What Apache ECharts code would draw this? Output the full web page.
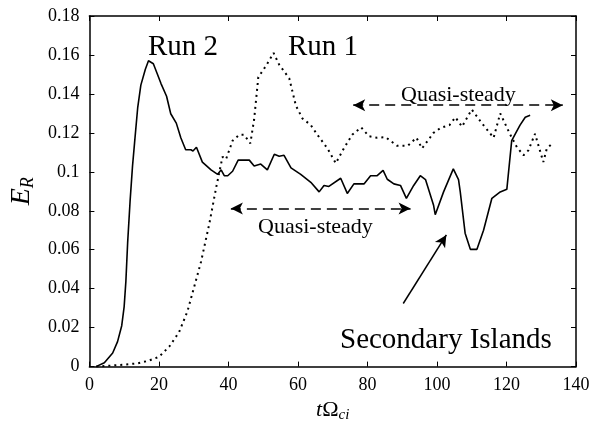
<!DOCTYPE html>
<html>
<head>
    <meta charset="utf-8">
    <title>E_R</title>
    <script src="https://cdn.jsdelivr.net/npm/echarts@6/dist/echarts.min.js"></script>
    <style>
        body { margin: 0; background: #fff; }
        #chart { width: 606px; height: 428px; }
    </style>
</head>
<body>
<div id="chart"></div>
<script type="text/javascript">
// Run 1 (dotted)
var run1T = [2, 6, 10, 14, 17, 20, 23, 25.8, 28.2, 30, 32.1, 34.5, 36.4, 38.3, 39.3, 41.2, 43.1, 44.5, 46.3, 47.4, 48.6, 50.8, 53, 54.6, 57.5, 59.4, 61.3, 63.7, 65.6, 68.5, 70.9, 73.2, 75.6, 78.2, 80.4, 82.8, 85.2, 88.5, 91.6, 94.1, 95.7, 99, 101, 103.6, 105.3, 107.2, 110, 112.9, 116.3, 118.2, 121.1, 123, 124.9, 126.3, 128.2, 130.6, 131.6, 133.5];
var run1E = [0, 0.0005, 0.001, 0.0017, 0.003, 0.005, 0.0103, 0.0177, 0.0283, 0.04, 0.0537, 0.0733, 0.0913, 0.1077, 0.1064, 0.116, 0.119, 0.119, 0.1146, 0.127, 0.1486, 0.1544, 0.161, 0.155, 0.148, 0.134, 0.1274, 0.124, 0.119, 0.112, 0.1044, 0.112, 0.119, 0.1228, 0.1183, 0.1175, 0.1178, 0.1134, 0.1134, 0.1175, 0.112, 0.12, 0.1225, 0.124, 0.128, 0.1232, 0.132, 0.125, 0.1175, 0.13, 0.119, 0.1126, 0.1085, 0.111, 0.1195, 0.105, 0.112, 0.115];

// Run 2 (solid)
var run2T = [1.9, 4.3, 6.7, 8.1, 9.3, 10, 10.5, 11, 11.7, 12.4, 13, 13.9, 14.8, 16.1, 17, 18.4, 19.6, 20.6, 22.2, 23.4, 25, 26.3, 27.7, 29.2, 29.8, 30.8, 32.5, 35, 36.9, 37.9, 38.8, 39.8, 41.2, 42.8, 46, 47.4, 49.3, 51.2, 53.2, 54.6, 56, 58, 60.8, 63.7, 66.1, 67.5, 68.9, 72.3, 74.2, 76.1, 79, 80.9, 82.8, 84.5, 85.7, 87.6, 89.5, 91.2, 93.3, 95.2, 96.7, 99, 99.5, 101.9, 104.7, 106.2, 106.7, 108.1, 109.6, 111.5, 113.4, 115.8, 118.2, 120.1, 121.5, 123, 123.9, 125.4, 126.8];
var run2E = [0, 0.002, 0.007, 0.0128, 0.021, 0.0308, 0.0439, 0.0635, 0.0848, 0.1028, 0.115, 0.133, 0.1445, 0.1527, 0.157, 0.1555, 0.15, 0.1453, 0.1388, 0.1298, 0.125, 0.1175, 0.1113, 0.1113, 0.1107, 0.1126, 0.105, 0.101, 0.0987, 0.101, 0.098, 0.098, 0.1003, 0.106, 0.106, 0.103, 0.104, 0.101, 0.109, 0.108, 0.1085, 0.102, 0.0987, 0.0946, 0.0897, 0.093, 0.0925, 0.0967, 0.0889, 0.0938, 0.0938, 0.098, 0.098, 0.1007, 0.0962, 0.0938, 0.093, 0.0864, 0.093, 0.098, 0.096, 0.083, 0.078, 0.0897, 0.1015, 0.096, 0.0897, 0.0685, 0.0602, 0.0602, 0.07, 0.0864, 0.0897, 0.091, 0.116, 0.121, 0.124, 0.128, 0.129];

var xTicks = [0, 20, 40, 60, 80, 100, 120, 140];
var yTicks = [0, 0.02, 0.04, 0.06, 0.08, 0.1, 0.12, 0.14, 0.16, 0.18];

function zip(a, b) {
    var out = [];
    for (var i = 0; i < a.length; i++) out.push([a[i], b[i]]);
    return out;
}

var serif = '"Liberation Serif", "DejaVu Serif", serif';
var chart = echarts.init(document.getElementById('chart'));

function axisCommon() {
    return {
        axisLine: { show: true, onZero: false, lineStyle: { color: '#000', width: 1.5 } },
        axisTick: { show: true, inside: true, length: 5, lineStyle: { color: '#000', width: 1 } },
        splitLine: { show: false }
    };
}

var option = {
    animation: false,
    backgroundColor: '#fff',
    grid: { left: 88, right: 30, top: 16, bottom: 45, show: false },
    xAxis: [
        Object.assign({
            type: 'value', min: 0, max: 140, interval: 20, position: 'bottom',
            axisLabel: { color: '#000', fontFamily: serif, fontSize: 18, margin: 10,
                formatter: function (v) { return xTicks.indexOf(v) >= 0 ? String(v) : ''; } },
            name: '{i|t}{n|Ω}{s|ci}',
            nameLocation: 'middle', nameGap: 24,
            nameTextStyle: {
                rich: {
                    i: { fontFamily: serif, fontStyle: 'italic', fontSize: 22, color: '#000' },
                    n: { fontFamily: serif, fontSize: 22, color: '#000' },
                    s: { fontFamily: serif, fontStyle: 'italic', fontSize: 15, color: '#000', padding: [10, 0, 0, 0] }
                }
            }
        }, axisCommon()),
        Object.assign({
            type: 'value', min: 0, max: 140, interval: 20, position: 'top',
            axisLabel: { show: false }
        }, axisCommon())
    ],
    yAxis: [
        Object.assign({
            type: 'value', min: 0, max: 0.18, interval: 0.02, position: 'left',
            axisLabel: { color: '#000', fontFamily: serif, fontSize: 18, margin: 10,
                formatter: function (v) {
                    var r = Math.round(v * 100) / 100;
                    return yTicks.indexOf(r) >= 0 ? String(r) : '';
                } },
            name: '{i|E}{s|R}',
            nameLocation: 'middle', nameGap: 52, nameRotate: 90,
            nameTextStyle: {
                rich: {
                    i: { fontFamily: serif, fontStyle: 'italic', fontSize: 28, color: '#000' },
                    s: { fontFamily: serif, fontStyle: 'italic', fontSize: 18, color: '#000', padding: [12, 0, 0, 0] }
                }
            }
        }, axisCommon()),
        Object.assign({
            type: 'value', min: 0, max: 0.18, interval: 0.02, position: 'right',
            axisLabel: { show: false }
        }, axisCommon())
    ],
    series: [
        {
            name: 'Run 1', type: 'line', showSymbol: false,
            data: zip(run1T, run1E),
            lineStyle: { color: '#000', width: 2, type: [2, 4] },
            markLine: {
                silent: true,
                symbol: ['arrow', 'arrow'], symbolSize: [9, 12],
                label: { show: false },
                lineStyle: { color: '#000', width: 1.5, type: [10, 6] },
                data: [
                    [{ coord: [75.9, 0.1342] }, { coord: [136.2, 0.1342] }],
                    [{ coord: [40.7, 0.0812] }, { coord: [92.4, 0.0812] }]
                ]
            }
        },
        {
            name: 'Run 2', type: 'line', showSymbol: false,
            data: zip(run2T, run2E),
            lineStyle: { color: '#000', width: 1.6 },
            markLine: {
                silent: true,
                symbol: ['none', 'arrow'], symbolSize: [9, 12],
                label: { show: false },
                lineStyle: { color: '#000', width: 1.5, type: 'solid' },
                data: [
                    [{ coord: [90.3, 0.0324] }, { coord: [102.7, 0.0676] }]
                ]
            }
        }
    ],
    graphic: [
        { type: 'text', left: 148, top: 33, style: { text: 'Run 2', font: '29px ' + serif, fill: '#000' } },
        { type: 'text', left: 288, top: 33, style: { text: 'Run 1', font: '29px ' + serif, fill: '#000' } },
        { type: 'text', left: 401, top: 84, style: { text: 'Quasi-steady', font: '22px ' + serif, fill: '#000' } },
        { type: 'text', left: 258, top: 216, style: { text: 'Quasi-steady', font: '22px ' + serif, fill: '#000' } },
        { type: 'text', left: 340, top: 326, style: { text: 'Secondary Islands', font: '29px ' + serif, fill: '#000' } }
    ]
};

chart.setOption(option);
</script>
</body>
</html>
